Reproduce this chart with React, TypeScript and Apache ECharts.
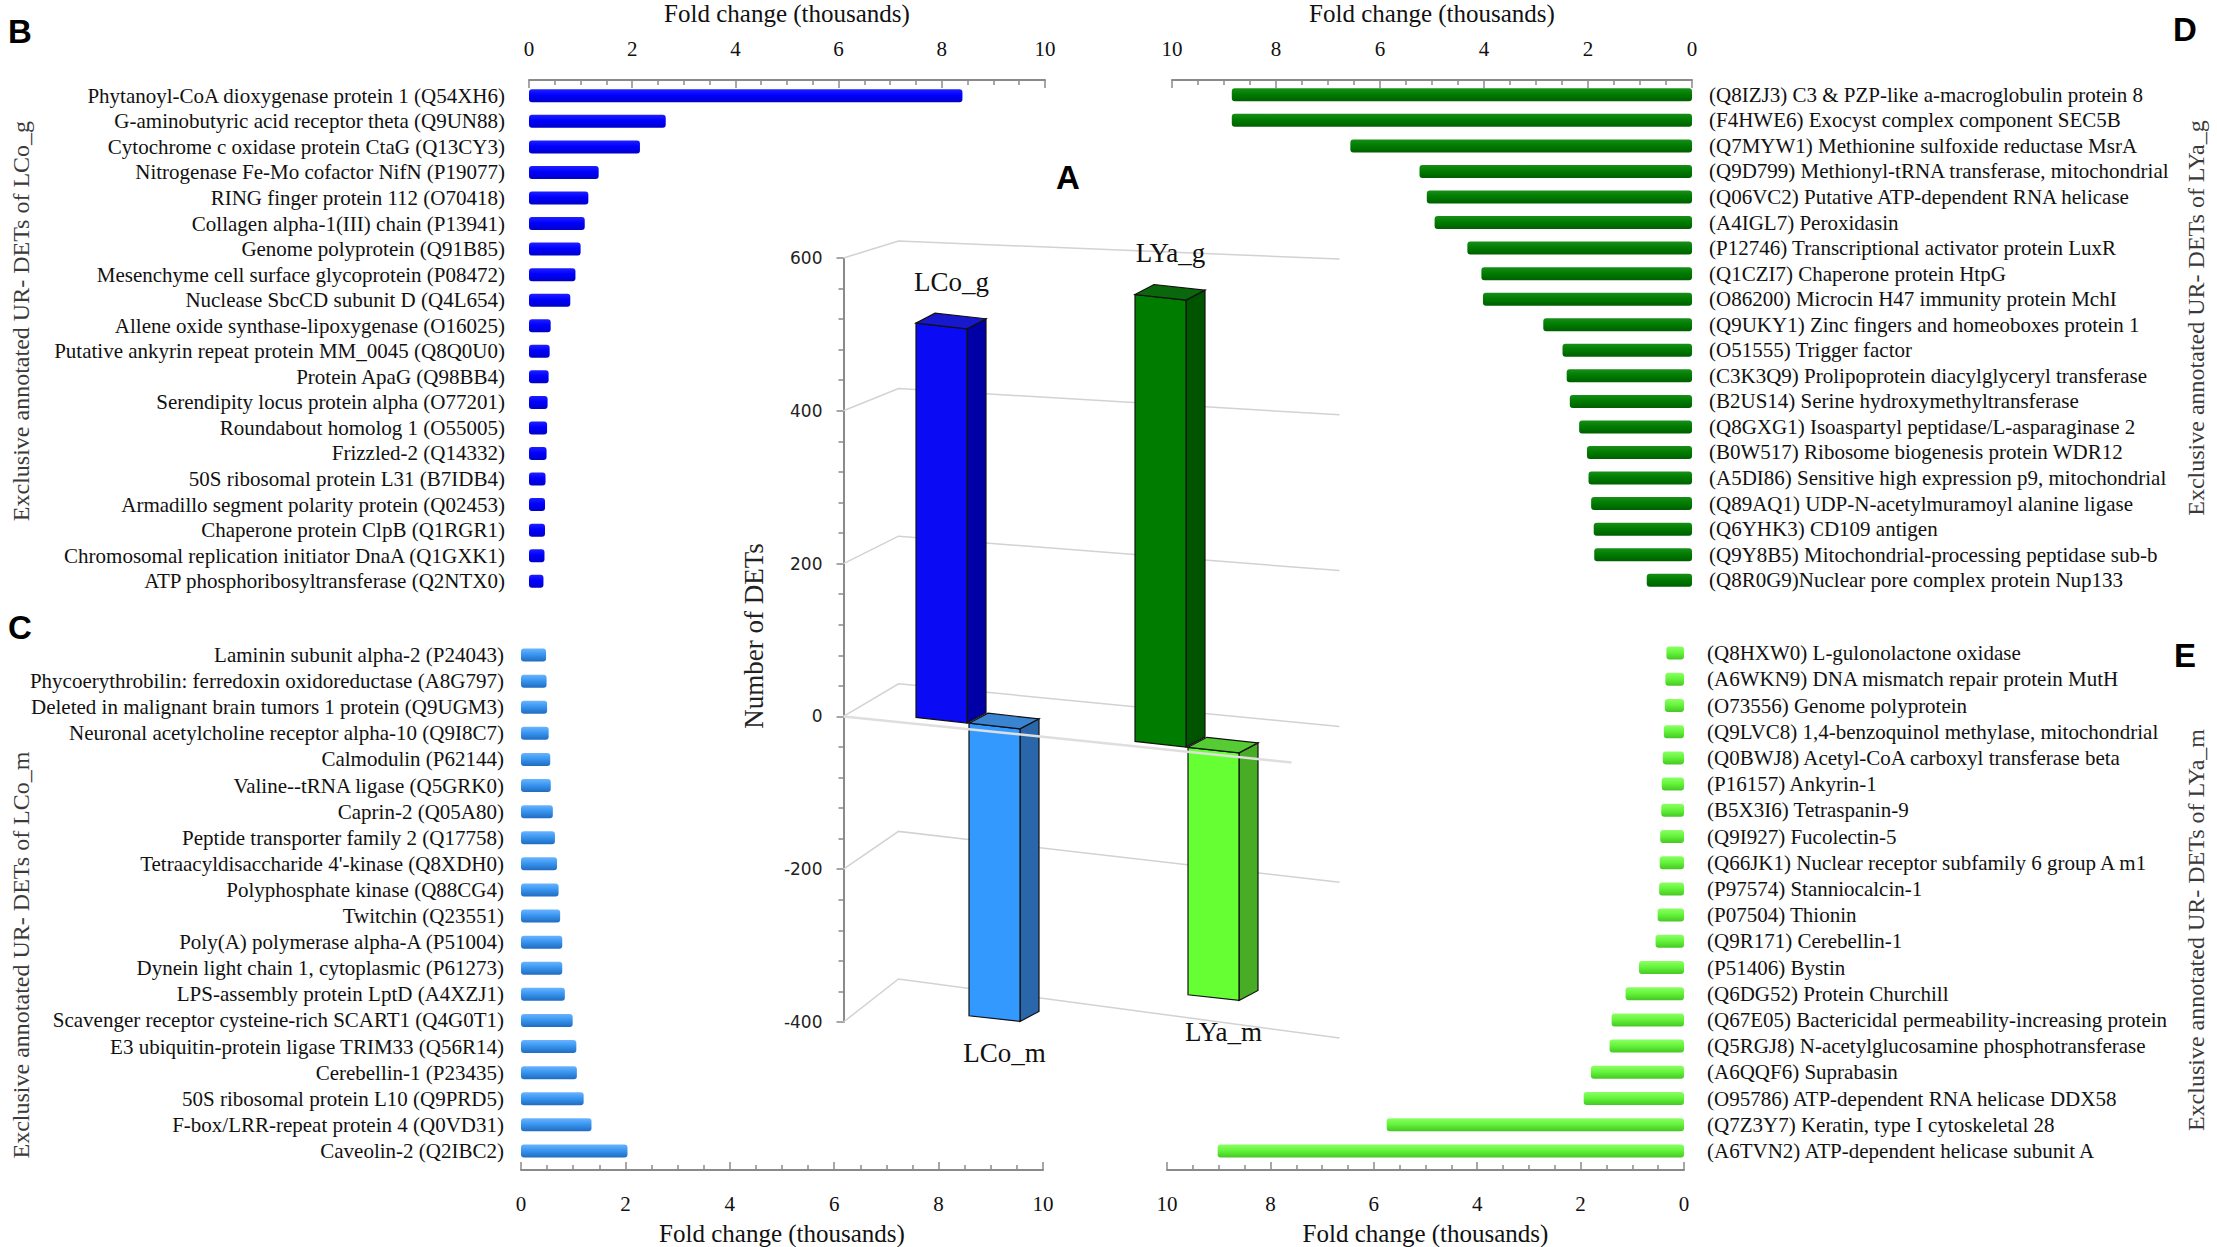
import React, { useEffect, useRef } from 'react';
import * as echarts from 'echarts';

// ---------- Panel B: exclusive UR-DETs of LCo_g ----------
const bCategories = [
  'Phytanoyl-CoA dioxygenase protein 1 (Q54XH6)',
  'G-aminobutyric acid receptor theta (Q9UN88)',
  'Cytochrome c oxidase protein CtaG (Q13CY3)',
  'Nitrogenase Fe-Mo cofactor NifN (P19077)',
  'RING finger protein 112 (O70418)',
  'Collagen alpha-1(III) chain (P13941)',
  'Genome polyprotein (Q91B85)',
  'Mesenchyme cell surface glycoprotein (P08472)',
  'Nuclease SbcCD subunit D (Q4L654)',
  'Allene oxide synthase-lipoxygenase (O16025)',
  'Putative ankyrin repeat protein MM_0045 (Q8Q0U0)',
  'Protein ApaG (Q98BB4)',
  'Serendipity locus protein alpha (O77201)',
  'Roundabout homolog 1 (O55005)',
  'Frizzled-2 (Q14332)',
  '50S ribosomal protein L31 (B7IDB4)',
  'Armadillo segment polarity protein (Q02453)',
  'Chaperone protein ClpB (Q1RGR1)',
  'Chromosomal replication initiator DnaA (Q1GXK1)',
  'ATP phosphoribosyltransferase (Q2NTX0)',
];
const bValues = [8.4, 2.65, 2.15, 1.35, 1.15, 1.08, 1.0, 0.9, 0.8, 0.42, 0.4, 0.38, 0.36, 0.35, 0.34, 0.32, 0.31, 0.31, 0.3, 0.28];

// ---------- Panel C: exclusive UR-DETs of LCo_m ----------
const cCategories = [
  'Laminin subunit alpha-2 (P24043)',
  'Phycoerythrobilin: ferredoxin oxidoreductase (A8G797)',
  'Deleted in malignant brain tumors 1 protein (Q9UGM3)',
  'Neuronal acetylcholine receptor alpha-10 (Q9I8C7)',
  'Calmodulin (P62144)',
  'Valine--tRNA ligase (Q5GRK0)',
  'Caprin-2 (Q05A80)',
  'Peptide transporter family 2 (Q17758)',
  "Tetraacyldisaccharide 4'-kinase (Q8XDH0)",
  'Polyphosphate kinase (Q88CG4)',
  'Twitchin (Q23551)',
  'Poly(A) polymerase alpha-A (P51004)',
  'Dynein light chain 1, cytoplasmic (P61273)',
  'LPS-assembly protein LptD (A4XZJ1)',
  'Scavenger receptor cysteine-rich SCART1 (Q4G0T1)',
  'E3 ubiquitin-protein ligase TRIM33 (Q56R14)',
  'Cerebellin-1 (P23435)',
  '50S ribosomal protein L10 (Q9PRD5)',
  'F-box/LRR-repeat protein 4 (Q0VD31)',
  'Caveolin-2 (Q2IBC2)',
];
const cValues = [0.48, 0.49, 0.5, 0.53, 0.56, 0.57, 0.61, 0.65, 0.69, 0.72, 0.75, 0.79, 0.79, 0.84, 0.99, 1.06, 1.07, 1.2, 1.35, 2.04];

// ---------- Panel D: exclusive UR-DETs of LYa_g ----------
const dCategories = [
  '(Q8IZJ3) C3 & PZP-like a-macroglobulin protein 8',
  '(F4HWE6) Exocyst complex component SEC5B',
  '(Q7MYW1) Methionine sulfoxide reductase MsrA',
  '(Q9D799) Methionyl-tRNA transferase, mitochondrial',
  '(Q06VC2) Putative ATP-dependent RNA helicase',
  '(A4IGL7) Peroxidasin',
  '(P12746) Transcriptional activator protein LuxR',
  '(Q1CZI7) Chaperone protein HtpG',
  '(O86200) Microcin H47 immunity protein MchI',
  '(Q9UKY1) Zinc fingers and homeoboxes protein 1',
  '(O51555) Trigger factor',
  '(C3K3Q9) Prolipoprotein diacylglyceryl transferase',
  '(B2US14) Serine hydroxymethyltransferase',
  '(Q8GXG1) Isoaspartyl peptidase/L-asparaginase 2',
  '(B0W517) Ribosome biogenesis protein WDR12',
  '(A5DI86) Sensitive high expression p9, mitochondrial',
  '(Q89AQ1) UDP-N-acetylmuramoyl alanine ligase',
  '(Q6YHK3) CD109 antigen',
  '(Q9Y8B5) Mitochondrial-processing peptidase sub-b',
  '(Q8R0G9)Nuclear pore complex protein Nup133',
];
const dValues = [8.85, 8.85, 6.57, 5.24, 5.1, 4.95, 4.32, 4.05, 4.02, 2.86, 2.49, 2.41, 2.35, 2.17, 2.02, 1.99, 1.94, 1.89, 1.88, 0.87];

// ---------- Panel E: exclusive UR-DETs of LYa_m ----------
const eCategories = [
  '(Q8HXW0) L-gulonolactone oxidase',
  '(A6WKN9) DNA mismatch repair protein MutH',
  '(O73556) Genome polyprotein',
  '(Q9LVC8) 1,4-benzoquinol methylase, mitochondrial',
  '(Q0BWJ8) Acetyl-CoA carboxyl transferase beta',
  '(P16157) Ankyrin-1',
  '(B5X3I6) Tetraspanin-9',
  '(Q9I927) Fucolectin-5',
  '(Q66JK1) Nuclear receptor subfamily 6 group A m1',
  '(P97574) Stanniocalcin-1',
  '(P07504) Thionin',
  '(Q9R171) Cerebellin-1',
  '(P51406) Bystin',
  '(Q6DG52) Protein Churchill',
  '(Q67E05) Bactericidal permeability-increasing protein',
  '(Q5RGJ8) N-acetylglucosamine phosphotransferase',
  '(A6QQF6) Suprabasin',
  '(O95786) ATP-dependent RNA helicase DDX58',
  '(Q7Z3Y7) Keratin, type I cytoskeletal 28',
  '(A6TVN2) ATP-dependent helicase subunit A',
];
const eValues = [0.34, 0.36, 0.37, 0.39, 0.41, 0.43, 0.44, 0.46, 0.47, 0.48, 0.51, 0.55, 0.87, 1.13, 1.4, 1.44, 1.8, 1.94, 5.75, 9.02];

// ---------- Panel A: number of DETs ----------
const aGroups = ['LCo', 'LYa'];
const aUpValues = [516, 585];
const aDownValues = [-383, -324];
const aTickValues = [600, 400, 200, 0, -200, -400];

const foldMin = 0;
const foldMax = 10;
const foldStep = 2;

const SERIF = "'Liberation Serif', 'Times New Roman', serif";
const SANS = "'Liberation Sans', Arial, sans-serif";
const AXIS_GRAY = '#8a8a8a';

function foldAxis(gridIndex: number, position: string, offset: number, inverse: boolean, labelMargin: number, nameGap: number) {
  return {
    type: 'value',
    gridIndex,
    position,
    offset,
    inverse,
    min: foldMin,
    max: foldMax,
    interval: foldStep,
    name: 'Fold change (thousands)',
    nameLocation: 'middle',
    nameGap,
    nameTextStyle: { fontFamily: SERIF, fontSize: 25, color: '#111' },
    axisLine: { show: true, lineStyle: { color: AXIS_GRAY, width: 2 } },
    axisTick: { show: true, inside: true, length: 8, lineStyle: { color: AXIS_GRAY, width: 1.5 } },
    minorTick: { show: true, splitNumber: 4, length: 5, lineStyle: { color: AXIS_GRAY, width: 1.5 } },
    splitLine: { show: false },
    axisLabel: { fontFamily: SERIF, fontSize: 21, color: '#111', margin: labelMargin },
  };
}

function catAxis(gridIndex: number, data: string[], position: string, margin: number) {
  return {
    type: 'category',
    gridIndex,
    data,
    inverse: true,
    position,
    axisLine: { show: false },
    axisTick: { show: false },
    splitLine: { show: false },
    axisLabel: { interval: 0, fontFamily: SERIF, fontSize: 21, color: '#111', margin },
  };
}

function grad(c0: string, c1: string, c2: string) {
  return new echarts.graphic.LinearGradient(0, 0, 0, 1, [
    { offset: 0, color: c0 },
    { offset: 0.45, color: c1 },
    { offset: 1, color: c2 },
  ]);
}

function hBar(index: number, values: number[], color: any) {
  return {
    type: 'bar',
    xAxisIndex: index,
    yAxisIndex: index,
    data: values,
    barWidth: 13,
    silent: true,
    itemStyle: { color, borderRadius: 3 },
  };
}

const palette3d: Record<string, { front: string; side: string; top: string }[]> = {
  g: [
    { front: '#0a0af5', side: '#0000a6', top: '#1818cc' },
    { front: '#007d00', side: '#005400', top: '#0b670b' },
  ],
  m: [
    { front: '#3399ff', side: '#2a66aa', top: '#3a84d2' },
    { front: '#66ff33', side: '#48ad25', top: '#55cc33' },
  ],
};

function bar3dRender(kind: 'g' | 'm') {
  return (params: any, api: any) => {
    const idx = api.value(0);
    const v = api.value(1);
    const cs = params.coordSys;
    const axisX = cs.x - 15;
    const shear = 0.11;
    const lift = -7;
    const dx = 19;
    const dy = -10;
    const w = 51;
    const base = api.coord([idx, 0]);
    const tip = api.coord([idx, v]);
    const xc = base[0];
    const x0 = kind === 'g' ? xc - w - 1 : xc + 1;
    const x1 = x0 + w;
    const yUp = Math.min(base[1], tip[1]);
    const yLo = Math.max(base[1], tip[1]);
    const Y = (x: number, y: number) => y + lift + shear * (x - axisX);
    const col = palette3d[kind][idx];
    const stroke = { stroke: '#111', lineWidth: 1.2 };
    const front = [[x0, Y(x0, yUp)], [x1, Y(x1, yUp)], [x1, Y(x1, yLo)], [x0, Y(x0, yLo)]];
    const side = [[x1, Y(x1, yUp)], [x1 + dx, Y(x1, yUp) + dy], [x1 + dx, Y(x1, yLo) + dy], [x1, Y(x1, yLo)]];
    const top = [[x0, Y(x0, yUp)], [x0 + dx, Y(x0, yUp) + dy], [x1 + dx, Y(x1, yUp) + dy], [x1, Y(x1, yUp)]];
    const xm = (x0 + x1) / 2;
    const label = aGroups[idx] + '_' + kind;
    const ly = kind === 'g' ? Y(xm, yUp) - 44 : Y(xm, yLo) + 34;
    return {
      type: 'group',
      children: [
        { type: 'polygon', shape: { points: side }, style: { fill: col.side, ...stroke } },
        { type: 'polygon', shape: { points: front }, style: { fill: col.front, ...stroke } },
        { type: 'polygon', shape: { points: top }, style: { fill: col.top, ...stroke } },
        {
          type: 'text',
          style: {
            text: label,
            x: xm + 10,
            y: ly,
            align: 'center',
            verticalAlign: 'middle',
            fontFamily: SERIF,
            fontSize: 27,
            fill: '#111',
          },
        },
      ],
    };
  };
}

function gridLineRender(params: any, api: any) {
  const v = api.value(1);
  const cs = params.coordSys;
  const y = api.coord([0, v])[1];
  const axisX = cs.x - 15;
  const depth = 17 + 0.026 * (600 - v);
  const pts = [
    [axisX, y],
    [axisX + 55, y - depth],
    [cs.x + cs.width + 43, y + 1 + 0.015 * (600 - v)],
  ];
  return { type: 'polyline', shape: { points: pts }, style: { stroke: '#d2d2d2', lineWidth: 1.5, fill: null } };
}

function floorRender(params: any, api: any) {
  const cs = params.coordSys;
  const y = api.coord([0, api.value(1)])[1];
  const axisX = cs.x - 15;
  return {
    type: 'line',
    shape: { x1: axisX, y1: y, x2: axisX + 448, y2: y + 46 },
    style: { stroke: '#dedede', lineWidth: 2.5 },
  };
}

function panelLetter(text: string, x: number, y: number) {
  return {
    type: 'text',
    x,
    y,
    style: { text, font: `bold 33px ${SANS}`, fill: '#000', align: 'center', verticalAlign: 'middle' },
  };
}

function sideTitle(text: string, x: number, y: number) {
  return {
    type: 'text',
    x,
    y,
    rotation: Math.PI / 2,
    style: { text, font: `24px ${SERIF}`, fill: '#3a3a3a', align: 'center', verticalAlign: 'middle' },
  };
}

function buildOption() {
  return {
    animation: false,
    backgroundColor: '#ffffff',
    grid: [
      { left: 529, top: 76, width: 516, height: 518 },
      { left: 521, top: 642, width: 522, height: 528 },
      { left: 1172, top: 75, width: 520, height: 518 },
      { left: 1167, top: 640, width: 517, height: 530 },
      { left: 858.5, top: 258, width: 438, height: 764 },
    ],
    xAxis: [
      foldAxis(0, 'top', 3, false, 21, 54),
      foldAxis(1, 'bottom', 6, false, 23, 51),
      foldAxis(2, 'top', 2, true, 21, 54),
      foldAxis(3, 'bottom', 6, true, 23, 51),
      { type: 'category', gridIndex: 4, data: aGroups, show: false },
    ],
    yAxis: [
      catAxis(0, bCategories, 'left', 24),
      catAxis(1, cCategories, 'left', 17),
      catAxis(2, dCategories, 'right', 17),
      catAxis(3, eCategories, 'right', 23),
      {
        type: 'value',
        gridIndex: 4,
        min: -400,
        max: 600,
        interval: 200,
        offset: 15,
        axisLine: { show: true, lineStyle: { color: AXIS_GRAY, width: 2 } },
        axisTick: { show: true, length: 7, lineStyle: { color: AXIS_GRAY, width: 1.5 } },
        minorTick: { show: true, splitNumber: 5, length: 5, lineStyle: { color: AXIS_GRAY, width: 1.5 } },
        splitLine: { show: false },
        axisLabel: { fontFamily: "'DejaVu Sans', Verdana, sans-serif", fontSize: 17, color: '#222', margin: 21 },
      },
    ],
    series: [
      hBar(0, bValues, grad('#2020ff', '#0000ff', '#0000c8')),
      hBar(1, cValues, grad('#6ab4ff', '#3a96f0', '#1f6cc0')),
      hBar(2, dValues, grad('#1a8f1a', '#007d00', '#005f00')),
      hBar(3, eValues, grad('#8cff66', '#66f53c', '#45c823')),
      {
        type: 'custom',
        xAxisIndex: 4,
        yAxisIndex: 4,
        silent: true,
        z: 1,
        data: aTickValues.map((v) => [0, v]),
        encode: { x: 0, y: 1 },
        renderItem: gridLineRender,
      },
      {
        type: 'custom',
        xAxisIndex: 4,
        yAxisIndex: 4,
        silent: true,
        z: 3,
        data: aUpValues.map((v, i) => [i, v]),
        encode: { x: 0, y: 1 },
        renderItem: bar3dRender('g'),
      },
      {
        type: 'custom',
        xAxisIndex: 4,
        yAxisIndex: 4,
        silent: true,
        z: 4,
        data: aDownValues.map((v, i) => [i, v]),
        encode: { x: 0, y: 1 },
        renderItem: bar3dRender('m'),
      },
      {
        type: 'custom',
        xAxisIndex: 4,
        yAxisIndex: 4,
        silent: true,
        z: 5,
        data: [[0, 0]],
        encode: { x: 0, y: 1 },
        renderItem: floorRender,
      },
    ],
    graphic: [
      panelLetter('B', 20, 31),
      panelLetter('C', 20, 627),
      panelLetter('D', 2185, 29),
      panelLetter('E', 2185, 655),
      panelLetter('A', 1068, 177),
      sideTitle('Exclusive annotated UR- DETs of LCo_g', 21, 321),
      sideTitle('Exclusive annotated UR- DETs of LCo_m', 21, 955),
      sideTitle('Exclusive annotated UR- DETs of LYa_g', 2196, 318),
      sideTitle('Exclusive annotated UR- DETs of LYa_m', 2196, 930),
      {
        type: 'text',
        x: 754,
        y: 636,
        rotation: Math.PI / 2,
        style: { text: 'Number of DETs', font: `27px ${SERIF}`, fill: '#222', align: 'center', verticalAlign: 'middle' },
      },
    ],
  };
}

export default function App() {
  const ref = useRef<HTMLDivElement>(null);
  useEffect(() => {
    document.body.style.margin = '0';
    if (!ref.current) return;
    const chart = echarts.init(ref.current, undefined, { renderer: 'svg' });
    chart.setOption(buildOption() as any);
    return () => chart.dispose();
  }, []);
  return <div ref={ref} style={{ width: 2217, height: 1247, background: '#fff' }} />;
}
